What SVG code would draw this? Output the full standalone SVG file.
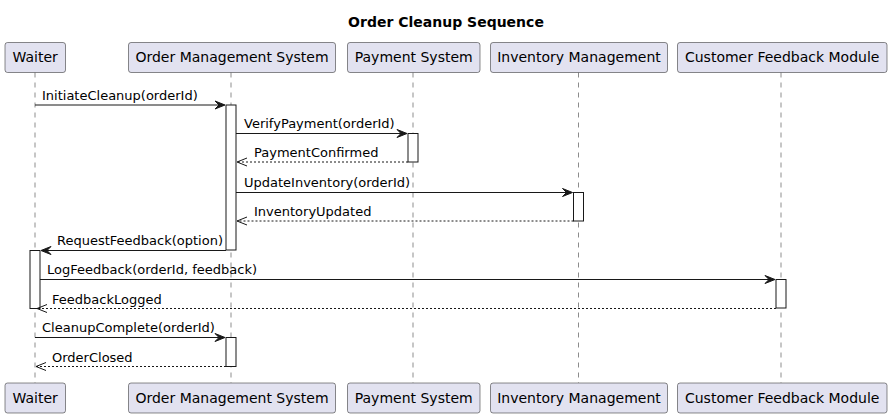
<svg xmlns="http://www.w3.org/2000/svg" width="892" height="419" viewBox="0 0 892 419">
<style>
.p rect{fill:#E2E2F0;stroke:#181818;stroke-width:0.5}
.p text{font-family:"DejaVu Sans",sans-serif;font-size:14px;fill:#000;text-anchor:middle}
.life{stroke:#181818;stroke-width:0.5;stroke-dasharray:5,5}
.act{fill:#fff;stroke:#181818;stroke-width:1}
.msg{stroke:#181818;stroke-width:1;fill:none}
.ret{stroke:#181818;stroke-width:1;fill:none;stroke-dasharray:2,2}
.head{fill:#181818;stroke:#181818;stroke-width:1}
.open{stroke:#181818;stroke-width:1;fill:none}
.lbl{font-family:"DejaVu Sans",sans-serif;font-size:13px;fill:#000}
.title{font-family:"DejaVu Sans",sans-serif;font-size:14px;font-weight:bold;fill:#000;text-anchor:middle}
</style>
<text class="title" x="446" y="27">Order Cleanup Sequence</text>
<g id="lifelines">
<line class="life" x1="35" y1="72.5" x2="35" y2="383"/>
<line class="life" x1="231" y1="72.5" x2="231" y2="383"/>
<line class="life" x1="413" y1="72.5" x2="413" y2="383"/>
<line class="life" x1="578.5" y1="72.5" x2="578.5" y2="383"/>
<line class="life" x1="781" y1="72.5" x2="781" y2="383"/>
</g>
<g id="waiter" class="p">
<rect x="5" y="42.5" width="60.5" height="30" rx="2.5"/>
<text x="35.2" y="62">Waiter</text>
<rect x="5" y="383" width="60.5" height="30" rx="2.5"/>
<text x="35.2" y="403">Waiter</text>
</g>
<g id="oms" class="p">
<rect x="128.5" y="42.5" width="207" height="30" rx="2.5"/>
<text x="232" y="62">Order Management System</text>
<rect x="128.5" y="383" width="207" height="30" rx="2.5"/>
<text x="232" y="403">Order Management System</text>
</g>
<g id="payment" class="p">
<rect x="347.5" y="42.5" width="132.5" height="30" rx="2.5"/>
<text x="413.7" y="62">Payment System</text>
<rect x="347.5" y="383" width="132.5" height="30" rx="2.5"/>
<text x="413.7" y="403">Payment System</text>
</g>
<g id="inventory" class="p">
<rect x="490.5" y="42.5" width="177" height="30" rx="2.5"/>
<text x="579" y="62">Inventory Management</text>
<rect x="490.5" y="383" width="177" height="30" rx="2.5"/>
<text x="579" y="403">Inventory Management</text>
</g>
<g id="feedback" class="p">
<rect x="677.5" y="42.5" width="209.5" height="30" rx="2.5"/>
<text x="782.2" y="62">Customer Feedback Module</text>
<rect x="677.5" y="383" width="209.5" height="30" rx="2.5"/>
<text x="782.2" y="403">Customer Feedback Module</text>
</g>
<g id="activations">
<rect class="act" x="226" y="105" width="10" height="145"/>
<rect class="act" x="408" y="133.5" width="10" height="28.5"/>
<rect class="act" x="573.5" y="192.5" width="10" height="28.5"/>
<rect class="act" x="30" y="250.5" width="10" height="58"/>
<rect class="act" x="776" y="279.5" width="10" height="28.5"/>
<rect class="act" x="226" y="337.5" width="10" height="29"/>
</g>
<g id="connectors">
<line class="msg" x1="35" y1="105" x2="224" y2="105"/>
<polygon class="head" points="225,105 215,101 219,105 215,109"/>
<text class="lbl" x="42" y="100">InitiateCleanup(orderId)</text>

<line class="msg" x1="236" y1="133.5" x2="406" y2="133.5"/>
<polygon class="head" points="407,133.5 397,129.5 401,133.5 397,137.5"/>
<text class="lbl" x="244" y="128">VerifyPayment(orderId)</text>

<line class="ret" x1="408" y1="162" x2="237" y2="162"/>
<polyline class="open" points="247,158 237,162 247,166"/>
<text class="lbl" x="254" y="157">PaymentConfirmed</text>

<line class="msg" x1="236" y1="192.5" x2="571" y2="192.5"/>
<polygon class="head" points="572.5,192.5 562.5,188.5 566.5,192.5 562.5,196.5"/>
<text class="lbl" x="244" y="187">UpdateInventory(orderId)</text>

<line class="ret" x1="573.5" y1="221" x2="237" y2="221"/>
<polyline class="open" points="247,217 237,221 247,225"/>
<text class="lbl" x="254" y="216">InventoryUpdated</text>

<line class="msg" x1="226" y1="250.5" x2="42" y2="250.5"/>
<polygon class="head" points="41,250.5 51,246.5 47,250.5 51,254.5"/>
<text class="lbl" x="57" y="245">RequestFeedback(option)</text>

<line class="msg" x1="40" y1="279.5" x2="774" y2="279.5"/>
<polygon class="head" points="775,279.5 765,275.5 769,279.5 765,283.5"/>
<text class="lbl" x="47" y="274">LogFeedback(orderId, feedback)</text>

<line class="ret" x1="776" y1="308.5" x2="37" y2="308.5"/>
<polyline class="open" points="47,304.5 37,308.5 47,312.5"/>
<text class="lbl" x="52" y="303.5">FeedbackLogged</text>

<line class="msg" x1="35" y1="337.5" x2="224" y2="337.5"/>
<polygon class="head" points="225,337.5 215,333.5 219,337.5 215,341.5"/>
<text class="lbl" x="42" y="332">CleanupComplete(orderId)</text>

<line class="ret" x1="226" y1="366.5" x2="36" y2="366.5"/>
<polyline class="open" points="46,362.5 36,366.5 46,370.5"/>
<text class="lbl" x="52" y="361.5">OrderClosed</text>
</g>
</svg>
